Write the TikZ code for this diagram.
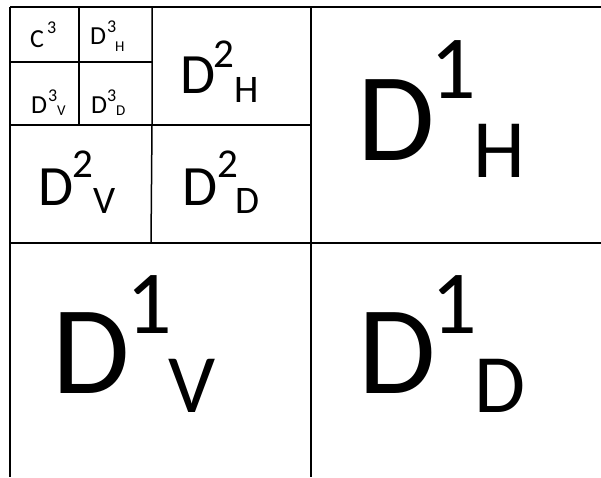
\documentclass[tikz,border=0pt]{standalone}
\usepackage{fontspec}
\setmainfont{Carlito}
\begin{document}
\begin{tikzpicture}[x=1pt,y=-1pt,
  grid/.style={line width=1.5pt,black},
  gl/.style={anchor=base west,inner sep=0pt,outer sep=0pt},
  fA/.style={gl,font=\fontsize{126}{126}\selectfont},
  fAs/.style={gl,font=\fontsize{90}{90}\selectfont},
  fAb/.style={gl,font=\fontsize{83}{83}\selectfont},
  fB/.style={gl,font=\fontsize{57}{57}\selectfont},
  fBs/.style={gl,font=\fontsize{41}{41}\selectfont},
  fBb/.style={gl,font=\fontsize{39}{39}\selectfont},
  fC/.style={gl,font=\fontsize{26}{26}\selectfont},
  fCs/.style={gl,font=\fontsize{18}{18}\selectfont},
  fCb/.style={gl,font=\fontsize{15}{15}\selectfont}]
\useasboundingbox (0,0) rectangle (601,477);
% grid
\coordinate (tl) at (10,7);
\coordinate (tr) at (601,7);
\coordinate (bl) at (10,477);
\coordinate (mt) at (311,7);
\coordinate (mb) at (311,477);
\coordinate (ml) at (10,243);
\coordinate (mr) at (601,243);
\coordinate (q2t) at (152,7);
\coordinate (q2m) at (152,125);
\coordinate (q2b) at (151,243);
\coordinate (h2l) at (10,125);
\coordinate (h2r) at (311,125);
\coordinate (q3t) at (79,7);
\coordinate (q3b) at (79,125);
\coordinate (h3l) at (10,62);
\coordinate (h3r) at (152,62);
\draw[grid] (tl) -- (tr);
\draw[grid] (tl) -- (bl);
\draw[grid] (mt) -- (mb);
\draw[grid] (ml) -- (mr);
\draw[grid] (q2t) -- (q2m) -- (q2b);
\draw[grid] (h2l) -- (h2r);
\draw[grid] (q3t) -- (q3b);
\draw[grid] (h3l) -- (h3r);
% level 1
\node[fA]  (h1D) at (357,160) {D};
\node[fAs] (h1s) at (430,98) {1};
\node[fAb] (h1b) at (473,177) {H};
\node[fA]  (v1D) at (52,393) {D};
\node[fAs] (v1s) at (126,333) {1};
\node[fAb] (v1b) at (168,412) {V};
\node[fA]  (d1D) at (358,393) {D};
\node[fAs] (d1s) at (431,333) {1};
\node[fAb] (d1b) at (474,412) {D};
% level 2
\node[fB]  (h2D) at (180,93) {D};
\node[fBs] (h2s) at (213,67) {2};
\node[fBb] (h2b) at (234,102) {H};
\node[fB]  (v2D) at (38,205) {D};
\node[fBs] (v2s) at (72,177) {2};
\node[fBb] (v2b) at (93,213) {V};
\node[fB]  (d2D) at (182,205) {D};
\node[fBs] (d2s) at (217,177) {2};
\node[fBb] (d2b) at (235,213) {D};
% level 3
\node[fC]  (c3C) at (30,47) {C};
\node[fCs] (c3s) at (47,33) {3};
\node[fC]  (h3D) at (90,44) {D};
\node[fCs] (h3s) at (107,32) {3};
\node[fCb] (h3b) at (115,51) {H};
\node[fC]  (v3D) at (31,113) {D};
\node[fCs] (v3s) at (48,101) {3};
\node[fCb] (v3b) at (57,115) {V};
\node[fC]  (d3D) at (91,113) {D};
\node[fCs] (d3s) at (107,101) {3};
\node[fCb] (d3b) at (116,115) {D};
\end{tikzpicture}
\end{document}
